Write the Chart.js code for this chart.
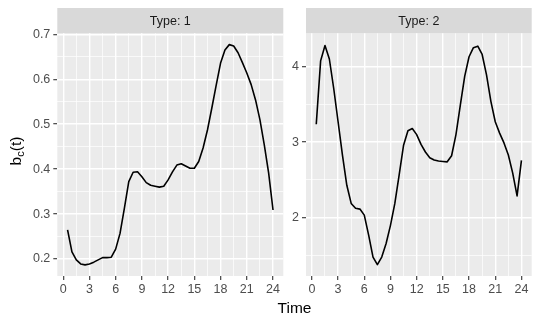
<!DOCTYPE html>
<html>
<head>
<meta charset="utf-8">
<script src="https://cdn.jsdelivr.net/npm/chart.js@4.4.0/dist/chart.umd.min.js"></script>
<style>
    html, body { margin: 0; padding: 0; background: #ffffff; }
    #wrap { position: relative; width: 540px; height: 324px; }
    #wrap canvas { position: absolute; left: 0; top: 0; }
</style>
</head>
<body>
<div id="wrap">
    <canvas id="chart1" width="540" height="324"></canvas>
    <canvas id="chart2" width="540" height="324"></canvas>
</div>
<script>
const time = [0.5, 1, 1.5, 2, 2.5, 3, 3.5, 4, 4.5, 5, 5.5, 6, 6.5, 7, 7.5, 8, 8.5, 9, 9.5, 10, 10.5, 11, 11.5, 12,
    12.5, 13, 13.5, 14, 14.5, 15, 15.5, 16, 16.5, 17, 17.5, 18, 18.5, 19, 19.5, 20, 20.5, 21, 21.5, 22, 22.5, 23, 23.5, 24];

const type1 = [0.265, 0.216, 0.198, 0.189, 0.187, 0.189, 0.193, 0.198, 0.203, 0.203, 0.204, 0.222,
    0.257, 0.313, 0.372, 0.393, 0.394, 0.383, 0.370, 0.364, 0.362, 0.360, 0.362, 0.376,
    0.394, 0.409, 0.412, 0.407, 0.402, 0.402, 0.417, 0.447, 0.487, 0.536, 0.587, 0.636,
    0.665, 0.677, 0.674, 0.659, 0.637, 0.614, 0.588, 0.554, 0.510, 0.454, 0.391, 0.309];

const type2 = [3.237, 4.075, 4.278, 4.10, 3.71, 3.27, 2.83, 2.43, 2.19, 2.125, 2.115, 2.035,
    1.77, 1.48, 1.38, 1.48, 1.66, 1.90, 2.19, 2.57, 2.96, 3.15, 3.18, 3.10,
    2.97, 2.87, 2.795, 2.765, 2.75, 2.745, 2.74, 2.82, 3.10, 3.49, 3.87, 4.13,
    4.25, 4.27, 4.16, 3.89, 3.54, 3.27, 3.12, 2.99, 2.83, 2.59, 2.29, 2.76];

const xBreaks = [0, 3, 6, 9, 12, 15, 18, 21, 24];
const y1Breaks = [0.2, 0.3, 0.4, 0.5, 0.6, 0.7];
const y2Breaks = [2, 3, 4];

const FONT = "'Liberation Sans', Arial, Helvetica, sans-serif";

function withMinor(breaks, min, max) {
    let all = breaks.slice();
    let step = breaks[1] - breaks[0];
    for (let i = -1; i < breaks.length; i++) {
        let m = breaks[0] + (i + 0.5) * step;
        if (m > min && m < max) all.push(Math.round(m * 1000) / 1000);
    }
    return all.sort((a, b) => a - b);
}

function isMajor(breaks, v) {
    return breaks.some((b) => Math.abs(b - v) < 1e-9);
}

const panelPlugin = {
    id: 'panel',
    beforeDraw: function(chart) {
        const a = chart.chartArea;
        const ctx = chart.ctx;
        ctx.save();
        ctx.fillStyle = '#EBEBEB';
        ctx.fillRect(a.left, a.top, a.right - a.left, a.bottom - a.top);
        ctx.fillStyle = '#D9D9D9';
        ctx.fillRect(a.left, 8, a.right - a.left, a.top - 8);
        ctx.fillStyle = '#1A1A1A';
        ctx.font = '12.5px ' + FONT;
        ctx.textAlign = 'center';
        ctx.textBaseline = 'middle';
        ctx.fillText(chart.options.plugins.panel.strip, (a.left + a.right) / 2, (8 + a.top) / 2 + 0.5);
        ctx.restore();
    }
};

const titlePlugin = {
    id: 'titles',
    afterDraw: function(chart) {
        const ctx = chart.ctx;
        ctx.save();
        ctx.fillStyle = '#000000';
        ctx.font = '15.5px ' + FONT;
        ctx.textAlign = 'center';
        ctx.textBaseline = 'alphabetic';
        ctx.fillText('Time', 294.5, 312.5);

        // y title b_c(t), drawn rotated with a subscript c
        ctx.translate(20.5, 151);
        ctx.rotate(-Math.PI / 2);
        ctx.textAlign = 'left';
        const big = '15.5px ' + FONT;
        const small = '11px ' + FONT;
        ctx.font = big;
        const wb = ctx.measureText('b').width;
        const wt = ctx.measureText('(t)').width;
        ctx.font = small;
        const wc = ctx.measureText('c').width;
        let x = -(wb + wc + wt) / 2;
        ctx.font = big;
        ctx.fillText('b', x, 0);
        ctx.font = small;
        ctx.fillText('c', x + wb, 3);
        ctx.font = big;
        ctx.fillText('(t)', x + wb + wc, 0);
        ctx.restore();
    }
};

function makeChart(id, values, yBreaks, yMin, yMax, strip, pad, yWidth, yDigits) {
    const xTicks = withMinor(xBreaks, -0.675, 25.175);
    const yTicks = withMinor(yBreaks, yMin, yMax);
    const gridFor = (breaks) => ({
        color: '#FFFFFF',
        lineWidth: (c) => isMajor(breaks, c.tick.value) ? 1.4 : 0.7,
        tickColor: (c) => isMajor(breaks, c.tick.value) ? '#333333' : 'rgba(0,0,0,0)',
        tickLength: 4,
        tickWidth: 1.1,
    });

    return new Chart(document.getElementById(id).getContext('2d'), {
        type: 'line',
        data: {
            datasets: [
                {
                    data: time.map((t, i) => ({x: t, y: values[i]})),
                    borderColor: '#000000',
                    borderWidth: 1.6,
                    borderJoinStyle: 'round',
                    pointRadius: 0,
                    tension: 0,
                    fill: false,
                },
            ],
        },
        options: {
            responsive: false,
            animation: false,
            devicePixelRatio: 1,
            layout: {
                padding: pad,
            },
            plugins: {
                legend: { display: false },
                tooltip: { enabled: false },
                panel: { strip: strip },
            },
            scales: {
                x: {
                    type: 'linear',
                    min: -0.675,
                    max: 25.175,
                    afterBuildTicks: (s) => { s.ticks = xTicks.map((v) => ({value: v})); },
                    afterFit: (s) => { s.height = 48; },
                    grid: gridFor(xBreaks),
                    border: { display: false },
                    ticks: {
                        autoSkip: false,
                        maxRotation: 0,
                        padding: 2,
                        color: '#4D4D4D',
                        font: { family: FONT, size: 12.5 },
                        callback: (v) => isMajor(xBreaks, v) ? String(v) : '',
                    },
                },
                y: {
                    type: 'linear',
                    min: yMin,
                    max: yMax,
                    afterBuildTicks: (s) => { s.ticks = yTicks.map((v) => ({value: v})); },
                    afterFit: (s) => { s.width = yWidth; },
                    grid: gridFor(yBreaks),
                    border: { display: false },
                    ticks: {
                        autoSkip: false,
                        padding: 3,
                        color: '#4D4D4D',
                        font: { family: FONT, size: 12.5 },
                        callback: (v) => isMajor(yBreaks, v) ? v.toFixed(yDigits) : '',
                    },
                },
            },
        },
        plugins: id === 'chart1' ? [panelPlugin, titlePlugin] : [panelPlugin],
    });
}

makeChart('chart1', type1, y1Breaks, 0.1622, 0.7022, 'Type: 1',
    {left: 0, top: 33.3, right: 256.7, bottom: 0}, 57.3, 1);
makeChart('chart2', type2, y2Breaks, 1.23, 4.44, 'Type: 2',
    {left: 286, top: 33.3, right: 8.3, bottom: 0}, 20, 0);
</script>
</body>
</html>
